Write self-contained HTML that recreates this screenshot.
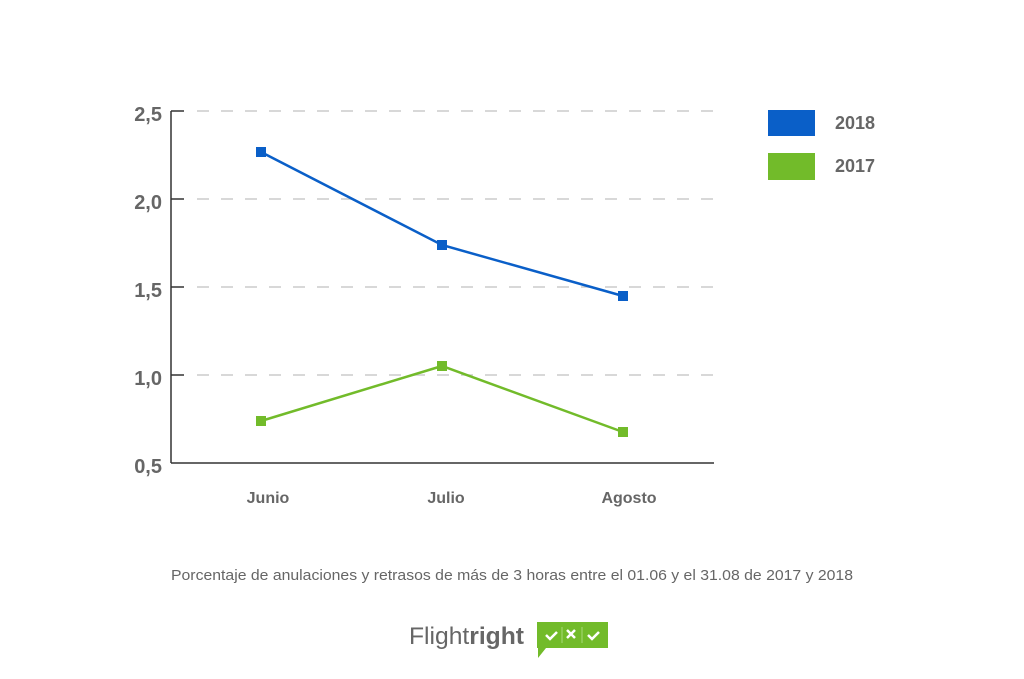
<!DOCTYPE html>
<html><head><meta charset="utf-8"><style>
body{margin:0;background:#fff;width:1024px;height:674px;overflow:hidden}
text{font-family:"Liberation Sans",sans-serif}
</style></head><body>
<svg width="1024" height="674" xmlns="http://www.w3.org/2000/svg">
<g stroke="#cccccc" stroke-width="1.5" stroke-dasharray="12,12">
<line x1="197" y1="111" x2="717" y2="111"/>
<line x1="197" y1="199" x2="717" y2="199"/>
<line x1="197" y1="287" x2="717" y2="287"/>
<line x1="197" y1="375" x2="717" y2="375"/>
</g>
<g stroke="#333" stroke-width="1.5">
<line x1="171" y1="111" x2="171" y2="463"/>
<line x1="171" y1="463" x2="714" y2="463"/>
<line x1="171" y1="111" x2="184" y2="111"/>
<line x1="171" y1="199" x2="184" y2="199"/>
<line x1="171" y1="287" x2="184" y2="287"/>
<line x1="171" y1="375" x2="184" y2="375"/>
</g>
<g font-size="20" font-weight="bold" fill="#666" text-anchor="end">
<text x="162" y="121">2,5</text>
<text x="162" y="209">2,0</text>
<text x="162" y="297">1,5</text>
<text x="162" y="385">1,0</text>
<text x="162" y="473">0,5</text>
</g>
<g font-size="16" font-weight="bold" fill="#666" text-anchor="middle">
<text x="268" y="503">Junio</text>
<text x="446" y="503">Julio</text>
<text x="629" y="503">Agosto</text>
</g>
<polyline points="261,152 442,245 623,296" fill="none" stroke="#0a5fc8" stroke-width="2.5"/>
<g fill="#0a5fc8"><rect x="256" y="147" width="10" height="10"/><rect x="437" y="240" width="10" height="10"/><rect x="618" y="291" width="10" height="10"/></g>
<polyline points="261,421 442,366 623,432" fill="none" stroke="#72bb2a" stroke-width="2.5"/>
<g fill="#72bb2a"><rect x="256" y="416" width="10" height="10"/><rect x="437" y="361" width="10" height="10"/><rect x="618" y="427" width="10" height="10"/></g>
<rect x="768" y="110" width="47" height="26" fill="#0a5fc8"/>
<rect x="768" y="153" width="47" height="27" fill="#72bb2a"/>
<g font-size="18" font-weight="bold" fill="#666">
<text x="835" y="129">2018</text>
<text x="835" y="172">2017</text>
</g>
<text x="171" y="580" font-size="15" fill="#666" textLength="682" lengthAdjust="spacingAndGlyphs">Porcentaje de anulaciones y retrasos de más de 3 horas entre el 01.06 y el 31.08 de 2017 y 2018</text>
<text x="409" y="644" font-size="24" fill="#666" textLength="115" lengthAdjust="spacingAndGlyphs">Flight<tspan font-weight="bold">right</tspan></text>
<path d="M537,622 H608 V648 H546 L538,658 V648 H537 Z" fill="#72bb2a"/>
<g stroke="#fff" stroke-width="2.5" fill="none">
<path d="M546,635 l4,4 l7,-7"/><path d="M567,630 l8,8 M575,630 l-8,8"/><path d="M588,635 l4,4 l7,-7"/>
</g>
<g stroke="#a8d878" stroke-width="1"><line x1="562" y1="627" x2="562" y2="643"/><line x1="582" y1="627" x2="582" y2="643"/></g>
</svg>
</body></html>
